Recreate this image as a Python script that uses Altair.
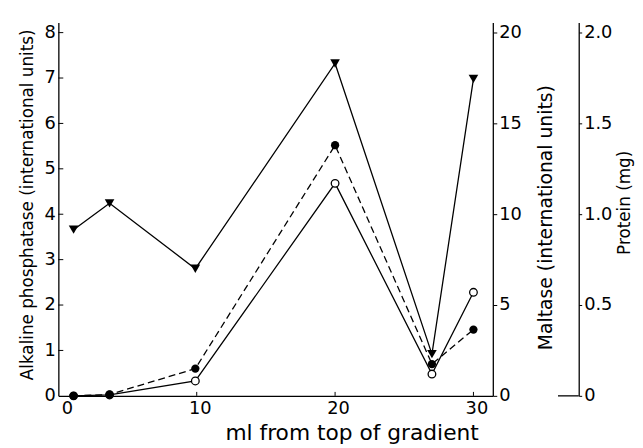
import altair as alt
import pandas as pd

# ---- data ----
ml = [1.1, 3.7, 9.9, 20, 27, 30]
alp = [0.0, 0.03, 0.6, 5.52, 0.7, 1.46]          # filled circles, dashed
maltase = [0.0, 0.05, 0.82, 11.7, 1.2, 5.7]      # open circles, solid
protein = [0.915, 1.06, 0.70, 1.83, 0.23, 1.745]  # triangles, solid

x_ticks = [0, 10, 20, 30]
alp_ticks = [0, 1, 2, 3, 4, 5, 6, 7, 8]
maltase_ticks = [0, 5, 10, 15, 20]
protein_ticks = [0, 0.5, 1.0, 1.5, 2.0]

W, H = 440, 378
FONT = "DejaVu Sans"
FS = 18

df = pd.DataFrame(dict(ml=ml, alp=alp, maltase=maltase, protein=protein))
inner_x = pd.DataFrame({"ml": x_ticks[1:]})
inner_y = pd.DataFrame({"alp": alp_ticks[1:]})
zero_row = pd.DataFrame({"protein": [0.0]})

xenc = alt.X(
    "ml:Q",
    scale=alt.Scale(domain=[0, 31.4], nice=False, zero=False),
    axis=alt.Axis(
        values=x_ticks, title="ml from top of gradient", ticks=False,
        labelPadding=4, labelOffset=3, titleX=297, titleY=44,
        titleAlign="center", titleBaseline="alphabetic", titleFontSize=22,
    ),
)

alp_scale = alt.Scale(domain=[0, 8.22], nice=False, zero=False)
mal_scale = alt.Scale(domain=[0, 20.55], nice=False, zero=False)
pro_scale = alt.Scale(domain=[0, 2.055], nice=False, zero=False)

base = alt.Chart(df)

# --- Alkaline phosphatase (left axis) ---
alp_y = alt.Y(
    "alp:Q", scale=alp_scale,
    axis=alt.Axis(
        orient="left", values=alp_ticks, ticks=False, labelPadding=3,
        title="Alkaline phosphatase (international units)",
        titleAngle=270, titleX=-31, titleY=184, titleAlign="center",
        titleBaseline="middle", titleFontSize=17,
    ),
)
alp_line = base.mark_line(color="black", strokeWidth=1.3, strokeDash=[7, 4]).encode(x=xenc, y=alp_y)
alp_pts = base.mark_point(shape="circle", filled=True, color="black", size=70, opacity=1).encode(x=xenc, y=alp_y)
ytick_rules = alt.Chart(inner_y).mark_rule(color="black", strokeWidth=1).encode(
    y=alp_y, x=alt.value(0), x2=alt.value(5)
)
xtick_rules = alt.Chart(inner_x).mark_rule(color="black", strokeWidth=1).encode(
    x=xenc, y=alt.value(H), y2=alt.value(H - 4)
)
layer_alp = alt.layer(alp_line, alp_pts, ytick_rules, xtick_rules)

# --- Maltase (right axis) ---
mal_y = alt.Y(
    "maltase:Q", scale=mal_scale,
    axis=alt.Axis(
        orient="right", values=maltase_ticks, tickSize=4, labelPadding=2,
        title="Maltase (international units)",
        titleAngle=270, titleX=53, titleY=197, titleAlign="center",
        titleBaseline="middle", titleFontSize=19,
    ),
)
mal_line = base.mark_line(color="black", strokeWidth=1.3).encode(x=xenc, y=mal_y)
mal_pts = base.mark_point(shape="circle", filled=True, fill="white", stroke="black",
                          strokeWidth=1.3, size=60, opacity=1).encode(x=xenc, y=mal_y)
layer_mal = alt.layer(mal_line, mal_pts)

# --- Protein (second right axis) ---
pro_y = alt.Y(
    "protein:Q", scale=pro_scale,
    axis=alt.Axis(
        orient="right", offset=87, values=protein_ticks, tickSize=3, labelPadding=2,
        labelExpr="datum.value == 0 ? '0' : format(datum.value, '.1f')",
        title="Protein (mg)",
        titleAngle=270, titleX=46, titleY=182, titleAlign="center",
        titleBaseline="middle", titleFontSize=17,
    ),
)
pro_line = base.mark_line(color="black", strokeWidth=1.3).encode(x=xenc, y=pro_y)
pro_pts = base.mark_point(shape="triangle-down", filled=True, color="black", size=95,
                          opacity=1).encode(x=xenc, y=pro_y)
pro_foot = alt.Chart(zero_row).mark_rule(color="black", strokeWidth=1.3).encode(
    y=pro_y, x=alt.value(W + 66), x2=alt.value(W + 87)
)
layer_pro = alt.layer(pro_line, pro_foot, pro_pts)

chart = (
    alt.layer(layer_pro, layer_mal, layer_alp)
    .resolve_scale(y="independent")
    .properties(
        width=W, height=H,
        autosize=alt.AutoSizeParams(type="none"),
        padding={"left": 51, "top": 12, "right": 144, "bottom": 50},
        background="white",
    )
    .configure_view(stroke=None)
    .configure_axis(
        grid=False, domainColor="black", domainWidth=1.3, tickColor="black",
        labelColor="black", titleColor="black", labelFont=FONT, titleFont=FONT,
        labelFontSize=FS, titleFontSize=FS, titleFontWeight="normal",
    )
)

chart.save("out.html", embed_options={"renderer": "svg", "actions": False})
